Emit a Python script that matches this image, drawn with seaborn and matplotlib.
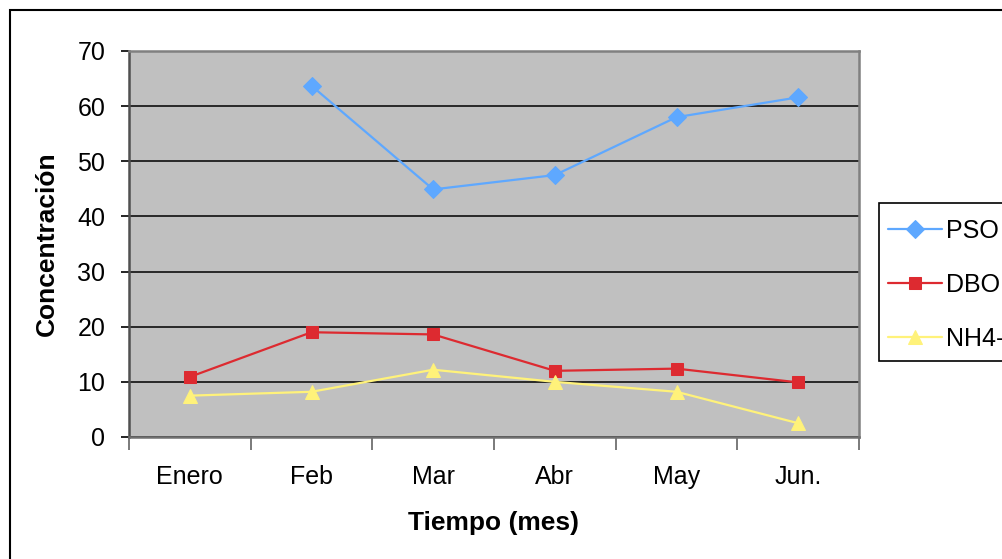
import numpy as np
import pandas as pd
import matplotlib
matplotlib.use("Agg")
import matplotlib.pyplot as plt
import seaborn as sns
from matplotlib.patches import Rectangle

meses = ["Enero", "Feb", "Mar", "Abr", "May", "Jun."]
pso = [np.nan, 63.7, 44.9, 47.5, 58.0, 61.6]
dbo = [10.9, 19.0, 18.6, 12.0, 12.4, 9.9]
nh4 = [7.5, 8.2, 12.2, 10.0, 8.2, 2.5]

series = [("PSO", pso, "#5EA8FF", "D", 9),
          ("DBO", dbo, "#DD2A30", "s", 8.5),
          ("NH4-N", nh4, "#FFF27A", "^", 10)]

sns.set_style("white")
plt.rcParams["font.family"] = ["Liberation Sans", "DejaVu Sans"]
plt.rcParams["text.color"] = "black"
plt.rcParams["axes.labelcolor"] = "black"
plt.rcParams["xtick.color"] = "black"
plt.rcParams["ytick.color"] = "black"

fig = plt.figure(figsize=(10.02, 5.59), dpi=100)
ax = fig.add_axes([129/1002, 1-437/559, 730/1002, 386/559])
ax.set_facecolor("#C0C0C0")

x = np.arange(len(meses))
for name, vals, col, mk, ms in series:
    df = pd.DataFrame({"mes": x, "valor": vals}).dropna()
    sns.lineplot(data=df, x="mes", y="valor", ax=ax, color=col, marker=mk,
                 markersize=ms, markeredgecolor=col, linewidth=1.6, label=name,
                 legend=False)

ax.set_xlim(-0.5, len(meses) - 0.5)
ax.set_ylim(0, 70)
ax.set_yticks(range(0, 71, 10))
ax.yaxis.grid(True, color="black", linewidth=1.1)
ax.set_axisbelow(True)

# ticks on category boundaries, labels in the middle
ax.set_xticks(np.arange(-0.5, len(meses), 1.0))
ax.set_xticklabels([])
ax.set_xticks(x, minor=True)
ax.set_xticklabels(meses, minor=True)
ax.tick_params(axis="x", which="major", bottom=True, length=9, width=1.3,
               color="#707070", direction="out")
ax.tick_params(axis="x", which="minor", bottom=True, length=0, pad=20, labelsize=18)
ax.tick_params(axis="y", left=True, length=6, width=1.2, color="black",
               direction="out", pad=11, labelsize=18)

for s in ["top", "right"]:
    ax.spines[s].set_color("#808080")
    ax.spines[s].set_linewidth(1.8)
ax.spines["left"].set_color("#505050")
ax.spines["left"].set_linewidth(1.8)
ax.spines["bottom"].set_color("#707070")
ax.spines["bottom"].set_linewidth(1.8)

ax.set_xlabel("Tiempo (mes)", fontsize=19, fontweight="bold", labelpad=16)
ax.set_ylabel("Concentración", fontsize=19, fontweight="bold", labelpad=13)

# legend box drawn separately (Excel style, runs off the right edge)
fig.add_artist(Rectangle((879/1002, 1-361/559), 0.2, 158/559, transform=fig.transFigure,
                         facecolor="white", edgecolor="black", linewidth=1.2))
handles, labels = ax.get_legend_handles_labels()
leg = fig.legend(handles, labels, loc="upper left",
                 bbox_to_anchor=(879/1002, 1-210/559), fontsize=18,
                 frameon=False, borderaxespad=0,
                 handlelength=2.15, handletextpad=0.2, labelspacing=1.2,
                 borderpad=0.35)

fig.add_artist(Rectangle((10/1002, -0.1), 2, 1-10/559+0.1, transform=fig.transFigure,
                         fill=False, edgecolor="black", linewidth=1.5))

fig.savefig("out.png", dpi=100)
